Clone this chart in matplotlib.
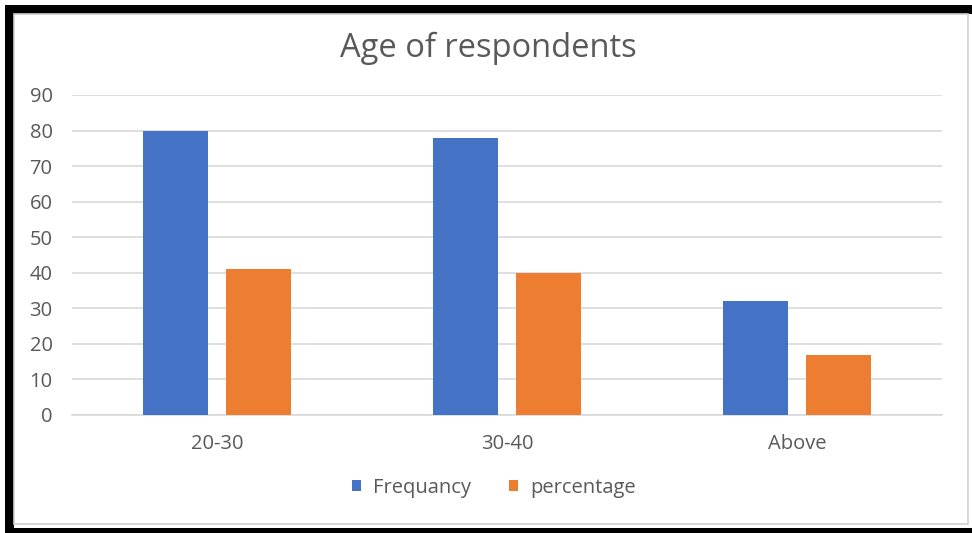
import matplotlib
matplotlib.use("Agg")
import matplotlib.pyplot as plt
from matplotlib.patches import Rectangle
import numpy as np

# Data
categories = ["20-30", "30-40", "Above"]
frequency = [80, 78, 32]
percentage = [41, 40, 17]
series_names = ["Frequancy", "percentage"]
y_ticks = [0, 10, 20, 30, 40, 50, 60, 70, 80, 90]

BLUE = "#4472C4"
ORANGE = "#ED7D31"
TEXT = "#595959"
GRID = "#D9D9D9"

plt.rcParams["font.family"] = ["Open Sans", "DejaVu Sans"]

W, H = 972, 533
fig = plt.figure(figsize=(W / 100, H / 100), dpi=100)
fig.patch.set_facecolor("white")


def px_rect(x0, y0, x1, y1, **kw):
    """Rectangle given in pixel coordinates measured from the top-left corner."""
    return Rectangle((x0 / W, 1 - y1 / H), (x1 - x0) / W, (y1 - y0) / H,
                     transform=fig.transFigure, **kw)


# Outer frame: black bands on the left, top and bottom, thin grey edge inside
fig.add_artist(px_rect(5, 5, 972, 14, facecolor="black", edgecolor="none"))
fig.add_artist(px_rect(5, 5, 14, 533, facecolor="black", edgecolor="none"))
fig.add_artist(px_rect(5, 528, 972, 533, facecolor="black", edgecolor="none"))
fig.add_artist(px_rect(14, 14, 967.5, 523.5, facecolor="none",
                       edgecolor="#D0D0D0", linewidth=1.2))

ax = fig.add_axes([72 / W, 1 - 415 / H, (942 - 72) / W, (415 - 95) / H])

x = np.arange(len(categories))
bar_w = 0.225
offset = 0.143
ax.bar(x - offset, frequency, width=bar_w, color=BLUE, label=series_names[0], zorder=3)
ax.bar(x + offset, percentage, width=bar_w, color=ORANGE, label=series_names[1], zorder=3)

ax.set_xlim(-0.5, len(categories) - 0.5)
ax.set_ylim(0, 90)
ax.set_yticks(y_ticks)
ax.set_xticks(x)
ax.set_xticklabels(categories)

ax.yaxis.grid(True, color=GRID, linewidth=1.2, zorder=0)
ax.set_axisbelow(True)
for side in ("top", "right", "left"):
    ax.spines[side].set_visible(False)
ax.spines["bottom"].set_color(GRID)
ax.spines["bottom"].set_linewidth(1.2)

ax.tick_params(axis="both", length=0, colors=TEXT, labelsize=14.5)
ax.tick_params(axis="y", pad=14)
ax.tick_params(axis="x", pad=14)

fig.text(488 / W, 1 - 48 / H, "Age of respondents", ha="center", va="center",
         fontsize=23.5, color=TEXT)

leg = fig.legend(loc="center", bbox_to_anchor=(494 / W, 1 - 488 / H), ncol=2,
                 frameon=False, fontsize=14.5, handlelength=0.45, handleheight=0.45,
                 handletextpad=0.6, columnspacing=1.9, labelcolor=TEXT)

fig.savefig("out.png", dpi=100, facecolor="white")
